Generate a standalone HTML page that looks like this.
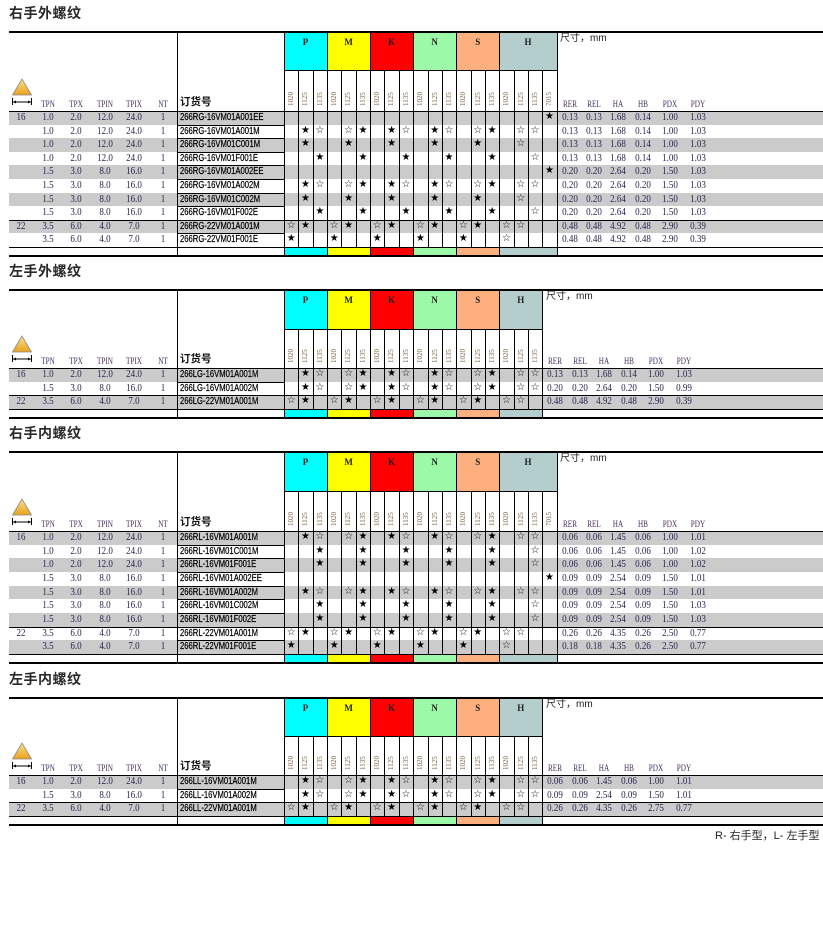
<!DOCTYPE html>
<html><head><meta charset="utf-8">
<style>
body{margin:0;width:823px;height:846px;background:#fff;position:relative;overflow:hidden;font-family:"Liberation Serif",serif}
.sec{position:absolute;left:0;width:823px;height:240px}
.ttl{position:absolute;left:9px;font:bold 14px/14px "Liberation Sans","Noto Sans CJK SC",sans-serif;color:#2a2a2a;letter-spacing:0.5px}
.h{position:absolute;height:1px;background:#000;left:9px;width:814px}
.v{position:absolute;width:1px;background:#000}
.cb{position:absolute;top:0;font:bold 9px/9px "Liberation Serif",serif;text-align:center;padding-top:7px;box-sizing:border-box;color:#222}
.sb{position:absolute}
.r{position:absolute;left:0;width:823px;height:var(--rh);line-height:var(--rh)}
.g{background:linear-gradient(to right,#fff 9px,#cbcbcb 9px)}
.r>i,.r>s{position:absolute;top:0;text-align:center;font-style:normal;text-decoration:none;white-space:nowrap;font-size:11px;color:#2b2450;transform:scaleX(.82)}
.c0{left:6px;width:30px}.c1{left:33px;width:30px}.c2{left:61px;width:30px}.c3{left:90px;width:30px}.c4{left:119px;width:30px}.c5{left:148px;width:30px}
.r>i.o{left:180px;font:10.5px "Liberation Sans",sans-serif;transform:scaleX(.73);transform-origin:0 50%;color:#000;text-align:left;letter-spacing:0;-webkit-text-stroke:0.25px #000}
.d0{left:555px;width:30px}.d1{left:579px;width:30px}.d2{left:603px;width:30px}.d3{left:628px;width:30px}.d4{left:655px;width:30px}.d5{left:683px;width:30px}
.L .d0{left:540px}.L .d1{left:565px}.L .d2{left:589px}.L .d3{left:614px}.L .d4{left:641px}.L .d5{left:669px}
.r>s{width:14.35px;font:10px "DejaVu Sans",sans-serif;color:#000;letter-spacing:0;transform:none}
.p0{left:284px}.p1{left:298.35px}.p2{left:312.7px}.p3{left:327.05px}.p4{left:341.4px}.p5{left:355.75px}.p6{left:370.1px}.p7{left:384.45px}.p8{left:398.8px}.p9{left:413.15px}.p10{left:427.5px}.p11{left:441.85px}.p12{left:456.2px}.p13{left:470.55px}.p14{left:484.9px}.p15{left:499.25px}.p16{left:513.6px}.p17{left:527.95px}.p18{left:542.3px}
.hd{height:12px;line-height:12px}
.hd>i{font-size:9px!important;color:#4a2f5f!important;transform:scaleX(.8)!important}
.hd>i.o{font:bold 10.5px/12px "Liberation Sans","Noto Sans CJK SC",sans-serif!important;color:#111!important;transform:none!important;top:-2px;-webkit-text-stroke:0}
.sl{position:absolute;left:0;width:823px;height:14px}
.sl>i{position:absolute;top:0;width:14.35px;height:14px;writing-mode:vertical-rl;transform:rotate(180deg);font:7px/14.35px "Liberation Serif",serif;font-style:normal;color:#7a6040;text-align:center}
.dim{position:absolute;font:10px/12px "Liberation Sans","Noto Sans CJK SC",sans-serif;color:#222}
.tri{position:absolute;left:10px}
</style></head><body>

<!-- ============ SECTION 1 ============ -->
<div class="sec" style="top:31px;--rh:13.6px">
<div class="ttl" style="top:-25px">右手外螺纹</div>
<div class="r g" style="top:80px"></div>
<div class="r g" style="top:107.2px"></div>
<div class="r g" style="top:134.4px"></div>
<div class="r g" style="top:161.6px"></div>
<div class="r g" style="top:188.8px"></div>
<div class="cb" style="left:284px;width:43.05px;height:39px;background:#00ffff">P</div>
<div class="cb" style="left:327.05px;width:43.05px;height:39px;background:#ffff00">M</div>
<div class="cb" style="left:370.1px;width:43.05px;height:39px;background:#ff0000">K</div>
<div class="cb" style="left:413.15px;width:43.05px;height:39px;background:#9cf9a8">N</div>
<div class="cb" style="left:456.2px;width:43.05px;height:39px;background:#fdb07e">S</div>
<div class="cb" style="left:499.25px;width:57.4px;height:39px;background:#b4cdcd">H</div>
<div class="sb" style="left:284px;width:43.05px;top:216px;height:8px;background:#00ffff"></div>
<div class="sb" style="left:327.05px;width:43.05px;top:216px;height:8px;background:#ffff00"></div>
<div class="sb" style="left:370.1px;width:43.05px;top:216px;height:8px;background:#ff0000"></div>
<div class="sb" style="left:413.15px;width:43.05px;top:216px;height:8px;background:#9cf9a8"></div>
<div class="sb" style="left:456.2px;width:43.05px;top:216px;height:8px;background:#fdb07e"></div>
<div class="sb" style="left:499.25px;width:57.4px;top:216px;height:8px;background:#b4cdcd"></div>
<div class="h" style="top:0;height:1.5px"></div>
<div class="h" style="top:39px;left:284px;width:273px"></div>
<div class="h" style="top:80px"></div>
<div class="h" style="top:93.6px;left:177px;width:107px"></div>
<div class="h" style="top:107.2px;left:177px;width:107px"></div>
<div class="h" style="top:120.8px;left:177px;width:107px"></div>
<div class="h" style="top:134.4px;left:177px;width:107px"></div>
<div class="h" style="top:148px;left:177px;width:107px"></div>
<div class="h" style="top:161.6px;left:177px;width:107px"></div>
<div class="h" style="top:175.2px;left:177px;width:107px"></div>
<div class="h" style="top:188.8px"></div>
<div class="h" style="top:202.4px;left:177px;width:107px"></div>
<div class="h" style="top:216px"></div>
<div class="h" style="top:224px;height:1.5px"></div>
<div class="v" style="left:177px;top:0;height:225px"></div>
<div class="v" style="left:284px;top:0;height:225px"></div>
<div class="v" style="left:327px;top:0;height:225px"></div>
<div class="v" style="left:370px;top:0;height:225px"></div>
<div class="v" style="left:413px;top:0;height:225px"></div>
<div class="v" style="left:456px;top:0;height:225px"></div>
<div class="v" style="left:499px;top:0;height:225px"></div>
<div class="v" style="left:556.5px;top:0;height:225px"></div>
<div class="v" style="left:298.3px;top:39px;height:177px"></div>
<div class="v" style="left:312.7px;top:39px;height:177px"></div>
<div class="v" style="left:341.4px;top:39px;height:177px"></div>
<div class="v" style="left:355.7px;top:39px;height:177px"></div>
<div class="v" style="left:384.4px;top:39px;height:177px"></div>
<div class="v" style="left:398.8px;top:39px;height:177px"></div>
<div class="v" style="left:427.5px;top:39px;height:177px"></div>
<div class="v" style="left:441.8px;top:39px;height:177px"></div>
<div class="v" style="left:470.5px;top:39px;height:177px"></div>
<div class="v" style="left:484.9px;top:39px;height:177px"></div>
<div class="v" style="left:513.6px;top:39px;height:177px"></div>
<div class="v" style="left:527.9px;top:39px;height:177px"></div>
<div class="v" style="left:542.3px;top:39px;height:177px"></div>
<div class="dim" style="left:560px;top:2px">尺寸，mm</div>
<svg class="tri" style="top:47px" width="24" height="28" viewBox="0 0 24 28"><defs><linearGradient id="tg1" x1="0" y1="0" x2="0" y2="1"><stop offset="0" stop-color="#fbe08a"/><stop offset="1" stop-color="#e9a21c"/></linearGradient></defs><polygon points="12,1 2.5,17 21.5,17" fill="url(#tg1)" stroke="#8a8a8a" stroke-width="0.8"/><line x1="2.5" y1="20" x2="2.5" y2="27" stroke="#000" stroke-width="1"/><line x1="21.5" y1="20" x2="21.5" y2="27" stroke="#000" stroke-width="1"/><line x1="3" y1="24" x2="21" y2="24" stroke="#000" stroke-width="1"/><polygon points="3,24 6,22.5 6,25.5" fill="#000"/><polygon points="21,24 18,22.5 18,25.5" fill="#000"/></svg>
<div class="sl" style="top:61px"><i class="p0">1020</i><i class="p1">1125</i><i class="p2">1135</i><i class="p3">1020</i><i class="p4">1125</i><i class="p5">1135</i><i class="p6">1020</i><i class="p7">1125</i><i class="p8">1135</i><i class="p9">1020</i><i class="p10">1125</i><i class="p11">1135</i><i class="p12">1020</i><i class="p13">1125</i><i class="p14">1135</i><i class="p15">1020</i><i class="p16">1125</i><i class="p17">1135</i><i class="p18">7015</i></div>
<div class="r hd" style="top:67px"><i class="c1">TPN</i><i class="c2">TPX</i><i class="c3">TPIN</i><i class="c4">TPIX</i><i class="c5">NT</i><i class="o">订货号</i><i class="d0">RER</i><i class="d1">REL</i><i class="d2">HA</i><i class="d3">HB</i><i class="d4">PDX</i><i class="d5">PDY</i></div>
<div class="r" style="top:80px"><i class="c0">16</i><i class="c1">1.0</i><i class="c2">2.0</i><i class="c3">12.0</i><i class="c4">24.0</i><i class="c5">1</i><i class="o">266RG-16VM01A001EE</i><s class="p18">★</s><i class="d0">0.13</i><i class="d1">0.13</i><i class="d2">1.68</i><i class="d3">0.14</i><i class="d4">1.00</i><i class="d5">1.03</i></div>
<div class="r" style="top:93.6px"><i class="c1">1.0</i><i class="c2">2.0</i><i class="c3">12.0</i><i class="c4">24.0</i><i class="c5">1</i><i class="o">266RG-16VM01A001M</i><s class="p1">★</s><s class="p2">☆</s><s class="p4">☆</s><s class="p5">★</s><s class="p7">★</s><s class="p8">☆</s><s class="p10">★</s><s class="p11">☆</s><s class="p13">☆</s><s class="p14">★</s><s class="p16">☆</s><s class="p17">☆</s><i class="d0">0.13</i><i class="d1">0.13</i><i class="d2">1.68</i><i class="d3">0.14</i><i class="d4">1.00</i><i class="d5">1.03</i></div>
<div class="r" style="top:107.2px"><i class="c1">1.0</i><i class="c2">2.0</i><i class="c3">12.0</i><i class="c4">24.0</i><i class="c5">1</i><i class="o">266RG-16VM01C001M</i><s class="p1">★</s><s class="p4">★</s><s class="p7">★</s><s class="p10">★</s><s class="p13">★</s><s class="p16">☆</s><i class="d0">0.13</i><i class="d1">0.13</i><i class="d2">1.68</i><i class="d3">0.14</i><i class="d4">1.00</i><i class="d5">1.03</i></div>
<div class="r" style="top:120.8px"><i class="c1">1.0</i><i class="c2">2.0</i><i class="c3">12.0</i><i class="c4">24.0</i><i class="c5">1</i><i class="o">266RG-16VM01F001E</i><s class="p2">★</s><s class="p5">★</s><s class="p8">★</s><s class="p11">★</s><s class="p14">★</s><s class="p17">☆</s><i class="d0">0.13</i><i class="d1">0.13</i><i class="d2">1.68</i><i class="d3">0.14</i><i class="d4">1.00</i><i class="d5">1.03</i></div>
<div class="r" style="top:134.4px"><i class="c1">1.5</i><i class="c2">3.0</i><i class="c3">8.0</i><i class="c4">16.0</i><i class="c5">1</i><i class="o">266RG-16VM01A002EE</i><s class="p18">★</s><i class="d0">0.20</i><i class="d1">0.20</i><i class="d2">2.64</i><i class="d3">0.20</i><i class="d4">1.50</i><i class="d5">1.03</i></div>
<div class="r" style="top:148px"><i class="c1">1.5</i><i class="c2">3.0</i><i class="c3">8.0</i><i class="c4">16.0</i><i class="c5">1</i><i class="o">266RG-16VM01A002M</i><s class="p1">★</s><s class="p2">☆</s><s class="p4">☆</s><s class="p5">★</s><s class="p7">★</s><s class="p8">☆</s><s class="p10">★</s><s class="p11">☆</s><s class="p13">☆</s><s class="p14">★</s><s class="p16">☆</s><s class="p17">☆</s><i class="d0">0.20</i><i class="d1">0.20</i><i class="d2">2.64</i><i class="d3">0.20</i><i class="d4">1.50</i><i class="d5">1.03</i></div>
<div class="r" style="top:161.6px"><i class="c1">1.5</i><i class="c2">3.0</i><i class="c3">8.0</i><i class="c4">16.0</i><i class="c5">1</i><i class="o">266RG-16VM01C002M</i><s class="p1">★</s><s class="p4">★</s><s class="p7">★</s><s class="p10">★</s><s class="p13">★</s><s class="p16">☆</s><i class="d0">0.20</i><i class="d1">0.20</i><i class="d2">2.64</i><i class="d3">0.20</i><i class="d4">1.50</i><i class="d5">1.03</i></div>
<div class="r" style="top:175.2px"><i class="c1">1.5</i><i class="c2">3.0</i><i class="c3">8.0</i><i class="c4">16.0</i><i class="c5">1</i><i class="o">266RG-16VM01F002E</i><s class="p2">★</s><s class="p5">★</s><s class="p8">★</s><s class="p11">★</s><s class="p14">★</s><s class="p17">☆</s><i class="d0">0.20</i><i class="d1">0.20</i><i class="d2">2.64</i><i class="d3">0.20</i><i class="d4">1.50</i><i class="d5">1.03</i></div>
<div class="r" style="top:188.8px"><i class="c0">22</i><i class="c1">3.5</i><i class="c2">6.0</i><i class="c3">4.0</i><i class="c4">7.0</i><i class="c5">1</i><i class="o">266RG-22VM01A001M</i><s class="p0">☆</s><s class="p1">★</s><s class="p3">☆</s><s class="p4">★</s><s class="p6">☆</s><s class="p7">★</s><s class="p9">☆</s><s class="p10">★</s><s class="p12">☆</s><s class="p13">★</s><s class="p15">☆</s><s class="p16">☆</s><i class="d0">0.48</i><i class="d1">0.48</i><i class="d2">4.92</i><i class="d3">0.48</i><i class="d4">2.90</i><i class="d5">0.39</i></div>
<div class="r" style="top:202.4px"><i class="c1">3.5</i><i class="c2">6.0</i><i class="c3">4.0</i><i class="c4">7.0</i><i class="c5">1</i><i class="o">266RG-22VM01F001E</i><s class="p0">★</s><s class="p3">★</s><s class="p6">★</s><s class="p9">★</s><s class="p12">★</s><s class="p15">☆</s><i class="d0">0.48</i><i class="d1">0.48</i><i class="d2">4.92</i><i class="d3">0.48</i><i class="d4">2.90</i><i class="d5">0.39</i></div>
</div>

<!-- ============ SECTION 2 ============ -->
<div class="sec L" style="top:289px;--rh:13.7px">
<div class="ttl" style="top:-25px">左手外螺纹</div>
<div class="r g" style="top:79px"></div>
<div class="r g" style="top:106.4px"></div>
<div class="cb" style="left:284px;width:43.05px;height:40px;background:#00ffff">P</div>
<div class="cb" style="left:327.05px;width:43.05px;height:40px;background:#ffff00">M</div>
<div class="cb" style="left:370.1px;width:43.05px;height:40px;background:#ff0000">K</div>
<div class="cb" style="left:413.15px;width:43.05px;height:40px;background:#9cf9a8">N</div>
<div class="cb" style="left:456.2px;width:43.05px;height:40px;background:#fdb07e">S</div>
<div class="cb" style="left:499.25px;width:43.05px;height:40px;background:#b4cdcd">H</div>
<div class="sb" style="left:284px;width:43.05px;top:120px;height:8px;background:#00ffff"></div>
<div class="sb" style="left:327.05px;width:43.05px;top:120px;height:8px;background:#ffff00"></div>
<div class="sb" style="left:370.1px;width:43.05px;top:120px;height:8px;background:#ff0000"></div>
<div class="sb" style="left:413.15px;width:43.05px;top:120px;height:8px;background:#9cf9a8"></div>
<div class="sb" style="left:456.2px;width:43.05px;top:120px;height:8px;background:#fdb07e"></div>
<div class="sb" style="left:499.25px;width:43.05px;top:120px;height:8px;background:#b4cdcd"></div>
<div class="h" style="top:0;height:1.5px"></div>
<div class="h" style="top:40px;left:284px;width:259px"></div>
<div class="h" style="top:79px"></div>
<div class="h" style="top:92.7px;left:177px;width:107px"></div>
<div class="h" style="top:106.4px"></div>
<div class="h" style="top:120px"></div>
<div class="h" style="top:128px;height:1.5px"></div>
<div class="v" style="left:177px;top:0;height:129px"></div>
<div class="v" style="left:284px;top:0;height:129px"></div>
<div class="v" style="left:327px;top:0;height:129px"></div>
<div class="v" style="left:370px;top:0;height:129px"></div>
<div class="v" style="left:413px;top:0;height:129px"></div>
<div class="v" style="left:456px;top:0;height:129px"></div>
<div class="v" style="left:499px;top:0;height:129px"></div>
<div class="v" style="left:542.3px;top:0;height:129px"></div>
<div class="v" style="left:298.3px;top:40px;height:80px"></div>
<div class="v" style="left:312.7px;top:40px;height:80px"></div>
<div class="v" style="left:341.4px;top:40px;height:80px"></div>
<div class="v" style="left:355.7px;top:40px;height:80px"></div>
<div class="v" style="left:384.4px;top:40px;height:80px"></div>
<div class="v" style="left:398.8px;top:40px;height:80px"></div>
<div class="v" style="left:427.5px;top:40px;height:80px"></div>
<div class="v" style="left:441.8px;top:40px;height:80px"></div>
<div class="v" style="left:470.5px;top:40px;height:80px"></div>
<div class="v" style="left:484.9px;top:40px;height:80px"></div>
<div class="v" style="left:513.6px;top:40px;height:80px"></div>
<div class="v" style="left:527.9px;top:40px;height:80px"></div>
<div class="dim" style="left:546px;top:2px">尺寸，mm</div>
<svg class="tri" style="top:46px" width="24" height="28" viewBox="0 0 24 28"><defs><linearGradient id="tg2" x1="0" y1="0" x2="0" y2="1"><stop offset="0" stop-color="#fbe08a"/><stop offset="1" stop-color="#e9a21c"/></linearGradient></defs><polygon points="12,1 2.5,17 21.5,17" fill="url(#tg2)" stroke="#8a8a8a" stroke-width="0.8"/><line x1="2.5" y1="20" x2="2.5" y2="27" stroke="#000" stroke-width="1"/><line x1="21.5" y1="20" x2="21.5" y2="27" stroke="#000" stroke-width="1"/><line x1="3" y1="24" x2="21" y2="24" stroke="#000" stroke-width="1"/><polygon points="3,24 6,22.5 6,25.5" fill="#000"/><polygon points="21,24 18,22.5 18,25.5" fill="#000"/></svg>
<div class="sl" style="top:60px"><i class="p0">1020</i><i class="p1">1125</i><i class="p2">1135</i><i class="p3">1020</i><i class="p4">1125</i><i class="p5">1135</i><i class="p6">1020</i><i class="p7">1125</i><i class="p8">1135</i><i class="p9">1020</i><i class="p10">1125</i><i class="p11">1135</i><i class="p12">1020</i><i class="p13">1125</i><i class="p14">1135</i><i class="p15">1020</i><i class="p16">1125</i><i class="p17">1135</i></div>
<div class="r hd" style="top:66px"><i class="c1">TPN</i><i class="c2">TPX</i><i class="c3">TPIN</i><i class="c4">TPIX</i><i class="c5">NT</i><i class="o">订货号</i><i class="d0">RER</i><i class="d1">REL</i><i class="d2">HA</i><i class="d3">HB</i><i class="d4">PDX</i><i class="d5">PDY</i></div>
<div class="r" style="top:79px"><i class="c0">16</i><i class="c1">1.0</i><i class="c2">2.0</i><i class="c3">12.0</i><i class="c4">24.0</i><i class="c5">1</i><i class="o">266LG-16VM01A001M</i><s class="p1">★</s><s class="p2">☆</s><s class="p4">☆</s><s class="p5">★</s><s class="p7">★</s><s class="p8">☆</s><s class="p10">★</s><s class="p11">☆</s><s class="p13">☆</s><s class="p14">★</s><s class="p16">☆</s><s class="p17">☆</s><i class="d0">0.13</i><i class="d1">0.13</i><i class="d2">1.68</i><i class="d3">0.14</i><i class="d4">1.00</i><i class="d5">1.03</i></div>
<div class="r" style="top:92.7px"><i class="c1">1.5</i><i class="c2">3.0</i><i class="c3">8.0</i><i class="c4">16.0</i><i class="c5">1</i><i class="o">266LG-16VM01A002M</i><s class="p1">★</s><s class="p2">☆</s><s class="p4">☆</s><s class="p5">★</s><s class="p7">★</s><s class="p8">☆</s><s class="p10">★</s><s class="p11">☆</s><s class="p13">☆</s><s class="p14">★</s><s class="p16">☆</s><s class="p17">☆</s><i class="d0">0.20</i><i class="d1">0.20</i><i class="d2">2.64</i><i class="d3">0.20</i><i class="d4">1.50</i><i class="d5">0.99</i></div>
<div class="r" style="top:106.4px"><i class="c0">22</i><i class="c1">3.5</i><i class="c2">6.0</i><i class="c3">4.0</i><i class="c4">7.0</i><i class="c5">1</i><i class="o">266LG-22VM01A001M</i><s class="p0">☆</s><s class="p1">★</s><s class="p3">☆</s><s class="p4">★</s><s class="p6">☆</s><s class="p7">★</s><s class="p9">☆</s><s class="p10">★</s><s class="p12">☆</s><s class="p13">★</s><s class="p15">☆</s><s class="p16">☆</s><i class="d0">0.48</i><i class="d1">0.48</i><i class="d2">4.92</i><i class="d3">0.48</i><i class="d4">2.90</i><i class="d5">0.39</i></div>
</div>

<!-- ============ SECTION 3 ============ -->
<div class="sec" style="top:451px;--rh:13.67px">
<div class="ttl" style="top:-25px">右手内螺纹</div>
<div class="r g" style="top:80px"></div>
<div class="r g" style="top:107.33px"></div>
<div class="r g" style="top:134.67px"></div>
<div class="r g" style="top:162px"></div>
<div class="r g" style="top:189.33px"></div>
<div class="cb" style="left:284px;width:43.05px;height:40px;background:#00ffff">P</div>
<div class="cb" style="left:327.05px;width:43.05px;height:40px;background:#ffff00">M</div>
<div class="cb" style="left:370.1px;width:43.05px;height:40px;background:#ff0000">K</div>
<div class="cb" style="left:413.15px;width:43.05px;height:40px;background:#9cf9a8">N</div>
<div class="cb" style="left:456.2px;width:43.05px;height:40px;background:#fdb07e">S</div>
<div class="cb" style="left:499.25px;width:57.4px;height:40px;background:#b4cdcd">H</div>
<div class="sb" style="left:284px;width:43.05px;top:203px;height:8px;background:#00ffff"></div>
<div class="sb" style="left:327.05px;width:43.05px;top:203px;height:8px;background:#ffff00"></div>
<div class="sb" style="left:370.1px;width:43.05px;top:203px;height:8px;background:#ff0000"></div>
<div class="sb" style="left:413.15px;width:43.05px;top:203px;height:8px;background:#9cf9a8"></div>
<div class="sb" style="left:456.2px;width:43.05px;top:203px;height:8px;background:#fdb07e"></div>
<div class="sb" style="left:499.25px;width:57.4px;top:203px;height:8px;background:#b4cdcd"></div>
<div class="h" style="top:0;height:1.5px"></div>
<div class="h" style="top:40px;left:284px;width:273px"></div>
<div class="h" style="top:80px"></div>
<div class="h" style="top:93.67px;left:177px;width:107px"></div>
<div class="h" style="top:107.33px;left:177px;width:107px"></div>
<div class="h" style="top:121px;left:177px;width:107px"></div>
<div class="h" style="top:134.67px;left:177px;width:107px"></div>
<div class="h" style="top:148.33px;left:177px;width:107px"></div>
<div class="h" style="top:162px;left:177px;width:107px"></div>
<div class="h" style="top:175.67px"></div>
<div class="h" style="top:189.33px;left:177px;width:107px"></div>
<div class="h" style="top:203px"></div>
<div class="h" style="top:211px;height:1.5px"></div>
<div class="v" style="left:177px;top:0;height:212px"></div>
<div class="v" style="left:284px;top:0;height:212px"></div>
<div class="v" style="left:327px;top:0;height:212px"></div>
<div class="v" style="left:370px;top:0;height:212px"></div>
<div class="v" style="left:413px;top:0;height:212px"></div>
<div class="v" style="left:456px;top:0;height:212px"></div>
<div class="v" style="left:499px;top:0;height:212px"></div>
<div class="v" style="left:556.5px;top:0;height:212px"></div>
<div class="v" style="left:298.3px;top:40px;height:163px"></div>
<div class="v" style="left:312.7px;top:40px;height:163px"></div>
<div class="v" style="left:341.4px;top:40px;height:163px"></div>
<div class="v" style="left:355.7px;top:40px;height:163px"></div>
<div class="v" style="left:384.4px;top:40px;height:163px"></div>
<div class="v" style="left:398.8px;top:40px;height:163px"></div>
<div class="v" style="left:427.5px;top:40px;height:163px"></div>
<div class="v" style="left:441.8px;top:40px;height:163px"></div>
<div class="v" style="left:470.5px;top:40px;height:163px"></div>
<div class="v" style="left:484.9px;top:40px;height:163px"></div>
<div class="v" style="left:513.6px;top:40px;height:163px"></div>
<div class="v" style="left:527.9px;top:40px;height:163px"></div>
<div class="v" style="left:542.3px;top:40px;height:163px"></div>
<div class="dim" style="left:560px;top:2px">尺寸，mm</div>
<svg class="tri" style="top:47px" width="24" height="28" viewBox="0 0 24 28"><defs><linearGradient id="tg3" x1="0" y1="0" x2="0" y2="1"><stop offset="0" stop-color="#fbe08a"/><stop offset="1" stop-color="#e9a21c"/></linearGradient></defs><polygon points="12,1 2.5,17 21.5,17" fill="url(#tg3)" stroke="#8a8a8a" stroke-width="0.8"/><line x1="2.5" y1="20" x2="2.5" y2="27" stroke="#000" stroke-width="1"/><line x1="21.5" y1="20" x2="21.5" y2="27" stroke="#000" stroke-width="1"/><line x1="3" y1="24" x2="21" y2="24" stroke="#000" stroke-width="1"/><polygon points="3,24 6,22.5 6,25.5" fill="#000"/><polygon points="21,24 18,22.5 18,25.5" fill="#000"/></svg>
<div class="sl" style="top:61px"><i class="p0">1020</i><i class="p1">1125</i><i class="p2">1135</i><i class="p3">1020</i><i class="p4">1125</i><i class="p5">1135</i><i class="p6">1020</i><i class="p7">1125</i><i class="p8">1135</i><i class="p9">1020</i><i class="p10">1125</i><i class="p11">1135</i><i class="p12">1020</i><i class="p13">1125</i><i class="p14">1135</i><i class="p15">1020</i><i class="p16">1125</i><i class="p17">1135</i><i class="p18">7015</i></div>
<div class="r hd" style="top:67px"><i class="c1">TPN</i><i class="c2">TPX</i><i class="c3">TPIN</i><i class="c4">TPIX</i><i class="c5">NT</i><i class="o">订货号</i><i class="d0">RER</i><i class="d1">REL</i><i class="d2">HA</i><i class="d3">HB</i><i class="d4">PDX</i><i class="d5">PDY</i></div>
<div class="r" style="top:80px"><i class="c0">16</i><i class="c1">1.0</i><i class="c2">2.0</i><i class="c3">12.0</i><i class="c4">24.0</i><i class="c5">1</i><i class="o">266RL-16VM01A001M</i><s class="p1">★</s><s class="p2">☆</s><s class="p4">☆</s><s class="p5">★</s><s class="p7">★</s><s class="p8">☆</s><s class="p10">★</s><s class="p11">☆</s><s class="p13">☆</s><s class="p14">★</s><s class="p16">☆</s><s class="p17">☆</s><i class="d0">0.06</i><i class="d1">0.06</i><i class="d2">1.45</i><i class="d3">0.06</i><i class="d4">1.00</i><i class="d5">1.01</i></div>
<div class="r" style="top:93.67px"><i class="c1">1.0</i><i class="c2">2.0</i><i class="c3">12.0</i><i class="c4">24.0</i><i class="c5">1</i><i class="o">266RL-16VM01C001M</i><s class="p2">★</s><s class="p5">★</s><s class="p8">★</s><s class="p11">★</s><s class="p14">★</s><s class="p17">☆</s><i class="d0">0.06</i><i class="d1">0.06</i><i class="d2">1.45</i><i class="d3">0.06</i><i class="d4">1.00</i><i class="d5">1.02</i></div>
<div class="r" style="top:107.33px"><i class="c1">1.0</i><i class="c2">2.0</i><i class="c3">12.0</i><i class="c4">24.0</i><i class="c5">1</i><i class="o">266RL-16VM01F001E</i><s class="p2">★</s><s class="p5">★</s><s class="p8">★</s><s class="p11">★</s><s class="p14">★</s><s class="p17">☆</s><i class="d0">0.06</i><i class="d1">0.06</i><i class="d2">1.45</i><i class="d3">0.06</i><i class="d4">1.00</i><i class="d5">1.02</i></div>
<div class="r" style="top:121px"><i class="c1">1.5</i><i class="c2">3.0</i><i class="c3">8.0</i><i class="c4">16.0</i><i class="c5">1</i><i class="o">266RL-16VM01A002EE</i><s class="p18">★</s><i class="d0">0.09</i><i class="d1">0.09</i><i class="d2">2.54</i><i class="d3">0.09</i><i class="d4">1.50</i><i class="d5">1.01</i></div>
<div class="r" style="top:134.67px"><i class="c1">1.5</i><i class="c2">3.0</i><i class="c3">8.0</i><i class="c4">16.0</i><i class="c5">1</i><i class="o">266RL-16VM01A002M</i><s class="p1">★</s><s class="p2">☆</s><s class="p4">☆</s><s class="p5">★</s><s class="p7">★</s><s class="p8">☆</s><s class="p10">★</s><s class="p11">☆</s><s class="p13">☆</s><s class="p14">★</s><s class="p16">☆</s><s class="p17">☆</s><i class="d0">0.09</i><i class="d1">0.09</i><i class="d2">2.54</i><i class="d3">0.09</i><i class="d4">1.50</i><i class="d5">1.01</i></div>
<div class="r" style="top:148.33px"><i class="c1">1.5</i><i class="c2">3.0</i><i class="c3">8.0</i><i class="c4">16.0</i><i class="c5">1</i><i class="o">266RL-16VM01C002M</i><s class="p2">★</s><s class="p5">★</s><s class="p8">★</s><s class="p11">★</s><s class="p14">★</s><s class="p17">☆</s><i class="d0">0.09</i><i class="d1">0.09</i><i class="d2">2.54</i><i class="d3">0.09</i><i class="d4">1.50</i><i class="d5">1.03</i></div>
<div class="r" style="top:162px"><i class="c1">1.5</i><i class="c2">3.0</i><i class="c3">8.0</i><i class="c4">16.0</i><i class="c5">1</i><i class="o">266RL-16VM01F002E</i><s class="p2">★</s><s class="p5">★</s><s class="p8">★</s><s class="p11">★</s><s class="p14">★</s><s class="p17">☆</s><i class="d0">0.09</i><i class="d1">0.09</i><i class="d2">2.54</i><i class="d3">0.09</i><i class="d4">1.50</i><i class="d5">1.03</i></div>
<div class="r" style="top:175.67px"><i class="c0">22</i><i class="c1">3.5</i><i class="c2">6.0</i><i class="c3">4.0</i><i class="c4">7.0</i><i class="c5">1</i><i class="o">266RL-22VM01A001M</i><s class="p0">☆</s><s class="p1">★</s><s class="p3">☆</s><s class="p4">★</s><s class="p6">☆</s><s class="p7">★</s><s class="p9">☆</s><s class="p10">★</s><s class="p12">☆</s><s class="p13">★</s><s class="p15">☆</s><s class="p16">☆</s><i class="d0">0.26</i><i class="d1">0.26</i><i class="d2">4.35</i><i class="d3">0.26</i><i class="d4">2.50</i><i class="d5">0.77</i></div>
<div class="r" style="top:189.33px"><i class="c1">3.5</i><i class="c2">6.0</i><i class="c3">4.0</i><i class="c4">7.0</i><i class="c5">1</i><i class="o">266RL-22VM01F001E</i><s class="p0">★</s><s class="p3">★</s><s class="p6">★</s><s class="p9">★</s><s class="p12">★</s><s class="p15">☆</s><i class="d0">0.18</i><i class="d1">0.18</i><i class="d2">4.35</i><i class="d3">0.26</i><i class="d4">2.50</i><i class="d5">0.77</i></div>
</div>

<!-- ============ SECTION 4 ============ -->
<div class="sec L" style="top:697px;--rh:13.67px">
<div class="ttl" style="top:-25px">左手内螺纹</div>
<div class="r g" style="top:78px"></div>
<div class="r g" style="top:105.33px"></div>
<div class="cb" style="left:284px;width:43.05px;height:39px;background:#00ffff">P</div>
<div class="cb" style="left:327.05px;width:43.05px;height:39px;background:#ffff00">M</div>
<div class="cb" style="left:370.1px;width:43.05px;height:39px;background:#ff0000">K</div>
<div class="cb" style="left:413.15px;width:43.05px;height:39px;background:#9cf9a8">N</div>
<div class="cb" style="left:456.2px;width:43.05px;height:39px;background:#fdb07e">S</div>
<div class="cb" style="left:499.25px;width:43.05px;height:39px;background:#b4cdcd">H</div>
<div class="sb" style="left:284px;width:43.05px;top:119px;height:8px;background:#00ffff"></div>
<div class="sb" style="left:327.05px;width:43.05px;top:119px;height:8px;background:#ffff00"></div>
<div class="sb" style="left:370.1px;width:43.05px;top:119px;height:8px;background:#ff0000"></div>
<div class="sb" style="left:413.15px;width:43.05px;top:119px;height:8px;background:#9cf9a8"></div>
<div class="sb" style="left:456.2px;width:43.05px;top:119px;height:8px;background:#fdb07e"></div>
<div class="sb" style="left:499.25px;width:43.05px;top:119px;height:8px;background:#b4cdcd"></div>
<div class="h" style="top:0;height:1.5px"></div>
<div class="h" style="top:39px;left:284px;width:259px"></div>
<div class="h" style="top:78px"></div>
<div class="h" style="top:91.67px;left:177px;width:107px"></div>
<div class="h" style="top:105.33px"></div>
<div class="h" style="top:119px"></div>
<div class="h" style="top:127px;height:1.5px"></div>
<div class="v" style="left:177px;top:0;height:128px"></div>
<div class="v" style="left:284px;top:0;height:128px"></div>
<div class="v" style="left:327px;top:0;height:128px"></div>
<div class="v" style="left:370px;top:0;height:128px"></div>
<div class="v" style="left:413px;top:0;height:128px"></div>
<div class="v" style="left:456px;top:0;height:128px"></div>
<div class="v" style="left:499px;top:0;height:128px"></div>
<div class="v" style="left:542.3px;top:0;height:128px"></div>
<div class="v" style="left:298.3px;top:39px;height:80px"></div>
<div class="v" style="left:312.7px;top:39px;height:80px"></div>
<div class="v" style="left:341.4px;top:39px;height:80px"></div>
<div class="v" style="left:355.7px;top:39px;height:80px"></div>
<div class="v" style="left:384.4px;top:39px;height:80px"></div>
<div class="v" style="left:398.8px;top:39px;height:80px"></div>
<div class="v" style="left:427.5px;top:39px;height:80px"></div>
<div class="v" style="left:441.8px;top:39px;height:80px"></div>
<div class="v" style="left:470.5px;top:39px;height:80px"></div>
<div class="v" style="left:484.9px;top:39px;height:80px"></div>
<div class="v" style="left:513.6px;top:39px;height:80px"></div>
<div class="v" style="left:527.9px;top:39px;height:80px"></div>
<div class="dim" style="left:546px;top:2px">尺寸，mm</div>
<svg class="tri" style="top:45px" width="24" height="28" viewBox="0 0 24 28"><defs><linearGradient id="tg4" x1="0" y1="0" x2="0" y2="1"><stop offset="0" stop-color="#fbe08a"/><stop offset="1" stop-color="#e9a21c"/></linearGradient></defs><polygon points="12,1 2.5,17 21.5,17" fill="url(#tg4)" stroke="#8a8a8a" stroke-width="0.8"/><line x1="2.5" y1="20" x2="2.5" y2="27" stroke="#000" stroke-width="1"/><line x1="21.5" y1="20" x2="21.5" y2="27" stroke="#000" stroke-width="1"/><line x1="3" y1="24" x2="21" y2="24" stroke="#000" stroke-width="1"/><polygon points="3,24 6,22.5 6,25.5" fill="#000"/><polygon points="21,24 18,22.5 18,25.5" fill="#000"/></svg>
<div class="sl" style="top:59px"><i class="p0">1020</i><i class="p1">1125</i><i class="p2">1135</i><i class="p3">1020</i><i class="p4">1125</i><i class="p5">1135</i><i class="p6">1020</i><i class="p7">1125</i><i class="p8">1135</i><i class="p9">1020</i><i class="p10">1125</i><i class="p11">1135</i><i class="p12">1020</i><i class="p13">1125</i><i class="p14">1135</i><i class="p15">1020</i><i class="p16">1125</i><i class="p17">1135</i></div>
<div class="r hd" style="top:65px"><i class="c1">TPN</i><i class="c2">TPX</i><i class="c3">TPIN</i><i class="c4">TPIX</i><i class="c5">NT</i><i class="o">订货号</i><i class="d0">RER</i><i class="d1">REL</i><i class="d2">HA</i><i class="d3">HB</i><i class="d4">PDX</i><i class="d5">PDY</i></div>
<div class="r" style="top:78px"><i class="c0">16</i><i class="c1">1.0</i><i class="c2">2.0</i><i class="c3">12.0</i><i class="c4">24.0</i><i class="c5">1</i><i class="o">266LL-16VM01A001M</i><s class="p1">★</s><s class="p2">☆</s><s class="p4">☆</s><s class="p5">★</s><s class="p7">★</s><s class="p8">☆</s><s class="p10">★</s><s class="p11">☆</s><s class="p13">☆</s><s class="p14">★</s><s class="p16">☆</s><s class="p17">☆</s><i class="d0">0.06</i><i class="d1">0.06</i><i class="d2">1.45</i><i class="d3">0.06</i><i class="d4">1.00</i><i class="d5">1.01</i></div>
<div class="r" style="top:91.67px"><i class="c1">1.5</i><i class="c2">3.0</i><i class="c3">8.0</i><i class="c4">16.0</i><i class="c5">1</i><i class="o">266LL-16VM01A002M</i><s class="p1">★</s><s class="p2">☆</s><s class="p4">☆</s><s class="p5">★</s><s class="p7">★</s><s class="p8">☆</s><s class="p10">★</s><s class="p11">☆</s><s class="p13">☆</s><s class="p14">★</s><s class="p16">☆</s><s class="p17">☆</s><i class="d0">0.09</i><i class="d1">0.09</i><i class="d2">2.54</i><i class="d3">0.09</i><i class="d4">1.50</i><i class="d5">1.01</i></div>
<div class="r" style="top:105.33px"><i class="c0">22</i><i class="c1">3.5</i><i class="c2">6.0</i><i class="c3">4.0</i><i class="c4">7.0</i><i class="c5">1</i><i class="o">266LL-22VM01A001M</i><s class="p0">☆</s><s class="p1">★</s><s class="p3">☆</s><s class="p4">★</s><s class="p6">☆</s><s class="p7">★</s><s class="p9">☆</s><s class="p10">★</s><s class="p12">☆</s><s class="p13">★</s><s class="p15">☆</s><s class="p16">☆</s><i class="d0">0.26</i><i class="d1">0.26</i><i class="d2">4.35</i><i class="d3">0.26</i><i class="d4">2.75</i><i class="d5">0.77</i></div>
</div>

<div style="position:absolute;left:715px;top:830px;font:11px/13px 'Liberation Sans','Noto Sans CJK SC',sans-serif;color:#222">R- 右手型，L- 左手型</div>
</body></html>
